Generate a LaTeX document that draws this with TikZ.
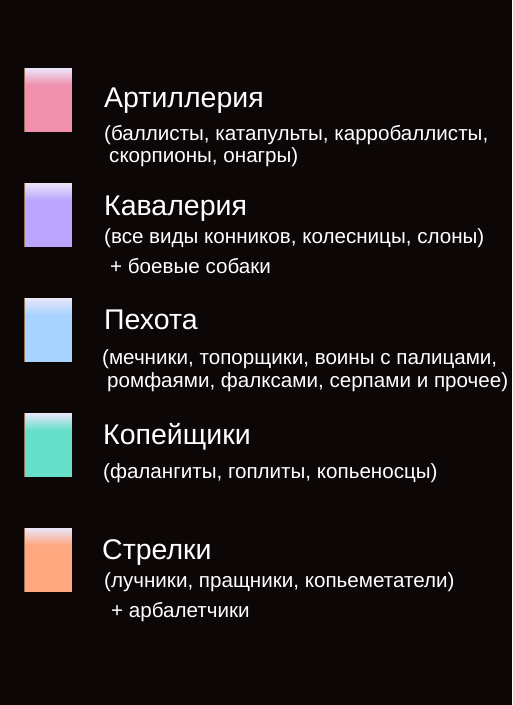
\documentclass[tikz,border=0pt]{standalone}
\usepackage{fontspec}
\setmainfont{Liberation Sans}
\definecolor{bg}{RGB}{12,6,6}
\definecolor{topc}{RGB}{234,230,250}
\definecolor{edgec}{RGB}{150,115,80}
\definecolor{cArt}{RGB}{240,144,172}
\definecolor{cKav}{RGB}{187,166,255}
\definecolor{cPeh}{RGB}{166,211,255}
\definecolor{cKop}{RGB}{102,224,200}
\definecolor{cStr}{RGB}{255,168,128}
\tikzset{
  swatch/.style={draw=none, fill=#1, minimum width=48pt, minimum height=64pt, inner sep=0pt, anchor=north west,
    path picture={
      \foreach \k in {0,...,17}{
        \pgfmathsetmacro{\pct}{100*\k/17}
        \fill[#1!\pct!topc] ([yshift=-\k pt]path picture bounding box.north west) rectangle ([yshift=-\k pt-1.2pt]path picture bounding box.north east);
      }
      \fill[edgec] (path picture bounding box.north west) rectangle ([xshift=0.8pt]path picture bounding box.south west);
    }},
  title/.style={text=white, anchor=base west, inner sep=0pt, font=\fontsize{28.5}{32}\selectfont},
  sub/.style={text=white, anchor=base west, inner sep=0pt, font=\fontsize{20.6}{24}\selectfont}
}
\begin{document}
\begin{tikzpicture}[x=1pt,y=-1pt]
\fill[bg] (0,0) rectangle (512,705);
\useasboundingbox (0,0) rectangle (512,705);
\node[swatch=cArt] (q1) at (24,68) {};
\node[swatch=cKav] (q2) at (24,183) {};
\node[swatch=cPeh] (q3) at (24,298) {};
\node[swatch=cKop] (q4) at (24,413) {};
\node[swatch=cStr] (q5) at (24,528) {};
\node[title] (t1) at (104,107) {Артиллерия};
\node[sub] (s1a) at (104,140) {(баллисты, катапульты, карробаллисты,};
\node[sub] (s1b) at (109,162) {скорпионы, онагры)};
\node[title] (t2) at (104,215) {Кавалерия};
\node[sub] (s2a) at (104,243) {(все виды конников, колесницы, слоны)};
\node[sub] (s2b) at (110,273) {+ боевые собаки};
\node[title] (t3) at (104,329) {Пехота};
\node[sub] (s3a) at (102,364) {(мечники, топорщики, воины с палицами,};
\node[sub] (s3b) at (107,387) {ромфаями, фалксами, серпами и прочее)};
\node[title] (t4) at (103,444) {Копейщики};
\node[sub] (s4a) at (103,478) {(фалангиты, гоплиты, копьеносцы)};
\node[title] (t5) at (102,559) {Стрелки};
\node[sub] (s5a) at (104,587) {(лучники, пращники, копьеметатели)};
\node[sub] (s5b) at (111,617) {+ арбалетчики};
\end{tikzpicture}
\end{document}
